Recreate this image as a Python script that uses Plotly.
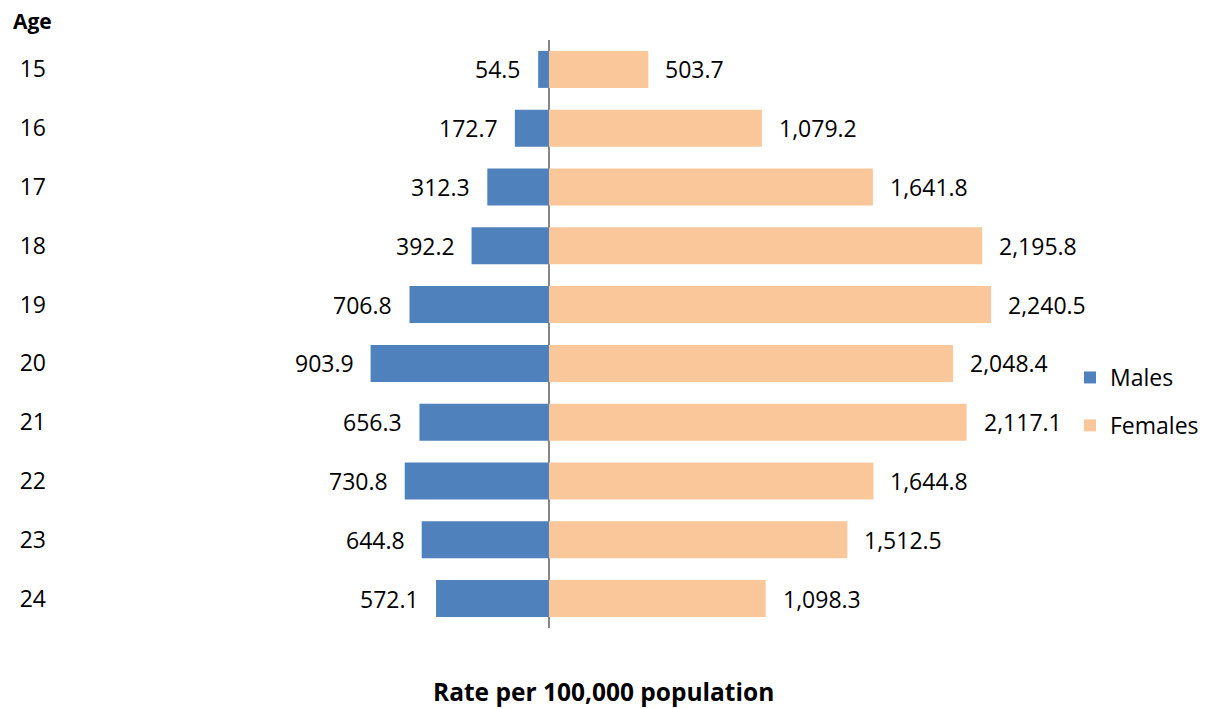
import plotly.graph_objects as go

ages = ["15", "16", "17", "18", "19", "20", "21", "22", "23", "24"]
males = [54.5, 172.7, 312.3, 392.2, 706.8, 903.9, 656.3, 730.8, 644.8, 572.1]
females = [503.7, 1079.2, 1641.8, 2195.8, 2240.5, 2048.4, 2117.1, 1644.8, 1512.5, 1098.3]

BLUE = "#4F81BD"
PEACH = "#FAC79A"
FONT = "Open Sans"

# page body has an 8px default margin; figure geometry compensates for it
W, H = 1203, 701
L, R, T, B = 52, 65, 32, 81
PW, PH = W - L - R, H - T - B

fig = go.Figure()
fig.add_trace(go.Bar(
    y=ages, x=[-v for v in males], orientation="h", name="Males",
    marker=dict(color=BLUE, line=dict(width=0)), legendgroup="m",
    hoverinfo="skip",
))
fig.add_trace(go.Bar(
    y=ages, x=females, orientation="h", name="Females",
    marker=dict(color=PEACH, line=dict(width=0)), legendgroup="f",
    hoverinfo="skip",
))

annotations = []
for i, (m, f) in enumerate(zip(males, females)):
    annotations.append(dict(x=-m, y=i, xref="x", yref="y", text=f"{m:,.1f}",
                            showarrow=False, xanchor="right", xshift=-15,
                            font=dict(family=FONT, size=23, color="#000000")))
    annotations.append(dict(x=f, y=i, xref="x", yref="y", text=f"{f:,.1f}",
                            showarrow=False, xanchor="left", xshift=15,
                            font=dict(family=FONT, size=23, color="#000000")))

annotations.append(dict(x=(4 - L) / PW, y=1 + (T - 13) / PH, xref="paper", yref="paper",
                        text="<b>Age</b>", showarrow=False, xanchor="left", yanchor="middle",
                        borderpad=0,
                        font=dict(family=FONT, size=21, color="#000000")))
annotations.append(dict(x=(595 - L) / PW, y=-(684 - (T + PH)) / PH, xref="paper", yref="paper",
                        text="<b>Rate per 100,000 population</b>", showarrow=False,
                        xanchor="center", yanchor="middle",
                        font=dict(family=FONT, size=24.5, color="#000000")))

fig.update_layout(
    width=W, height=H,
    margin=dict(l=L, r=R, t=T, b=B, autoexpand=False),
    barmode="relative", bargap=0.37,
    plot_bgcolor="white", paper_bgcolor="white",
    font=dict(family=FONT, size=23, color="#000000"),
    showlegend=True,
    legend=dict(x=(1062 - L) / PW, y=(T + PH - 348) / PH, xanchor="left", yanchor="top",
                font=dict(family=FONT, size=23), traceorder="grouped", tracegroupgap=15,
                bgcolor="rgba(0,0,0,0)"),
    annotations=annotations,
)
fig.update_xaxes(range=[-2478, 3026], showticklabels=False, showgrid=False,
                 zeroline=True, zerolinecolor="#868686", zerolinewidth=2,
                 showline=False, ticks="")
fig.update_yaxes(autorange="reversed", showgrid=False, showline=False, ticks="",
                 type="category", dtick=1, ticklabelstandoff=13,
                 tickfont=dict(family=FONT, size=23, color="#000000"))

fig.write_html("out.html")
